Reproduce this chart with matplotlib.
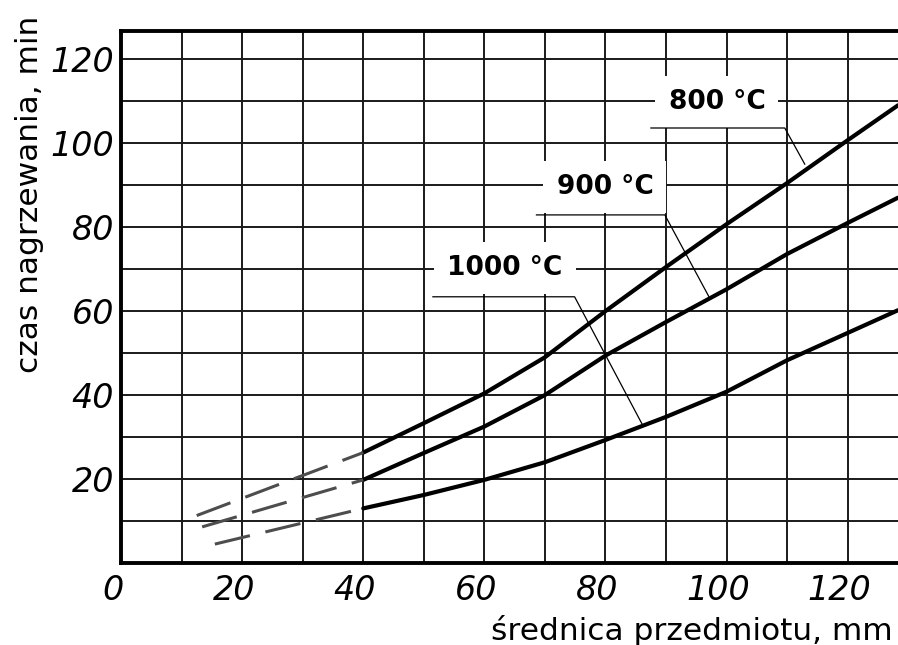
import matplotlib
matplotlib.use("Agg")
import matplotlib.pyplot as plt
from matplotlib.transforms import ScaledTranslation

# srednica przedmiotu [mm] vs czas nagrzewania [min]
diam = [40, 50, 60, 70, 80, 90, 100, 110, 120, 128.3]
t800 = [26.3, 33.3, 40.4, 49.0, 60.0, 70.5, 80.7, 90.5, 100.7, 109.0]
t900 = [19.8, 26.2, 32.5, 40.0, 49.4, 57.4, 65.2, 73.6, 81.0, 87.0]
t1000 = [13.0, 16.2, 19.8, 24.0, 29.3, 34.8, 40.8, 48.3, 54.8, 60.2]

# extrapolated (dashed) part below 40 mm
d800_x, d800_y = [12.5, 40], [11.3, 26.3]
d900_x, d900_y = [13.4, 40], [8.6, 19.8]
d1000_x, d1000_y = [15.5, 40], [4.5, 13.0]

labels = ["800 °C", "900 °C", "1000 °C"]
xticks = [0, 20, 40, 60, 80, 100, 120]
yticks = [20, 40, 60, 80, 100, 120]

fig = plt.figure(figsize=(8.98, 6.45), dpi=100)
ax = fig.add_axes([121 / 898, 1 - 563 / 645, 1 - 121 / 898, (563 - 31) / 645])

ax.set_xlim(0, 128.3)
ax.set_ylim(0, 126.7)
ax.set_xticks(xticks)
ax.set_xticks(range(10, 130, 20), minor=True)
ax.set_yticks(yticks)
ax.set_yticks(range(10, 130, 20), minor=True)
ax.grid(which="both", color="#1a1a1a", lw=1.4, zorder=1)
ax.set_axisbelow(True)
ax.tick_params(which="both", length=0)
ax.tick_params(axis="x", pad=8, labelsize=24)
ax.tick_params(axis="y", pad=5, labelsize=24)
for lab in ax.get_xticklabels() + ax.get_yticklabels():
    lab.set_fontstyle("italic")
for lab in ax.get_xticklabels():
    lab.set_transform(lab.get_transform() + ScaledTranslation(-6 / 72, 0, fig.dpi_scale_trans))

for side in ["left", "bottom", "top"]:
    ax.spines[side].set_linewidth(2.8)
    ax.spines[side].set_color("black")
ax.spines["right"].set_visible(False)

# curves
for y in [t800, t900, t1000]:
    ax.plot(diam, y, color="black", lw=3, solid_capstyle="round", zorder=3)
for dx, dy in [(d800_x, d800_y), (d900_x, d900_y), (d1000_x, d1000_y)]:
    ax.plot(dx, dy, color="#4d4d4d", lw=2.2, dashes=(11.8, 5.2), zorder=3)

# labels with leader lines
lab_pos = [(98.4, 109.8), (79.9, 89.6), (63.4, 70.2)]
leaders = [
    ([87.5, 109.6, 112.9], [103.6, 103.6, 95.0]),
    ([68.6, 89.8, 97.2], [82.9, 82.9, 63.1]),
    ([51.5, 74.9, 86.0], [63.4, 63.4, 33.2]),
]
for txt, (lx, ly), (px, py) in zip(labels, lab_pos, leaders):
    ax.text(lx, ly, txt, ha="center", va="center", fontsize=19, fontweight="bold",
            bbox=dict(boxstyle="square,pad=0.5", fc="white", ec="none"), zorder=4)
    ax.plot(px, py, color="black", lw=0.9, zorder=5)

fig.text(893 / 898, 1 - 640 / 645, "średnica przedmiotu, mm", ha="right", va="baseline",
         fontsize=22.5)
fig.text(30 / 898, 1 - 194 / 645, "czas nagrzewania, min", rotation=90,
         ha="center", va="center", fontsize=22.5)

fig.savefig("out.png", dpi=100)
